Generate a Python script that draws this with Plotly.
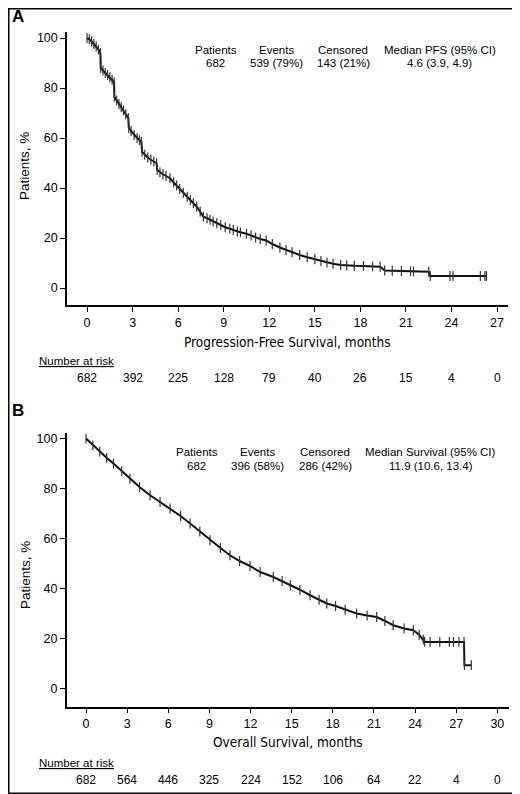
import plotly.graph_objects as go

# Panel A: progression-free survival
pfs_months = [0, 0.15, 0.3, 0.45, 0.6, 0.75, 0.88, 0.9, 1.05, 1.2, 1.35, 1.5, 1.65, 1.78,
              1.8, 1.95, 2.1, 2.25, 2.4, 2.55, 2.72, 2.75, 2.9, 3.1, 3.3, 3.45, 3.58, 3.62,
              3.8, 4.0, 4.2, 4.4, 4.58, 4.62, 4.8, 5.0, 5.2, 5.46, 5.7, 5.9, 6.1, 6.34, 6.6,
              6.8, 7.0, 7.22, 7.45, 7.66, 7.9, 8.1, 8.3, 8.54, 8.8, 9.1, 9.4, 9.63, 9.9, 10.1,
              10.5, 10.8, 11.1, 11.4, 11.8, 12.2, 12.7, 13.1, 13.5, 14.0, 14.5, 15.0, 15.4,
              15.8, 16.2, 16.7, 17.1, 17.6, 18.2, 18.8, 19.3, 19.6, 20.1, 20.7, 21.3, 21.5,
              22.5, 22.6, 23.9, 24.1, 25.9, 26.2, 26.3]
pfs_pct = [100, 99.5, 98.6, 97.6, 96.6, 95.4, 94, 88, 87, 86, 85.2, 84.3, 83.3, 82.3,
           76.5, 75, 73.5, 72.3, 71, 69.5, 68, 64, 62.8, 61.2, 60, 59.2, 58.5, 54.5,
           53.3, 52.2, 51.3, 50.6, 49.9, 47.2, 46.3, 45.5, 44.8, 43.9, 42.2, 41, 39.6, 38, 36.5,
           35.2, 33.9, 32.5, 30.5, 28.5, 27.9, 27.3, 26.6, 25.9, 25.2, 24.3, 23.7, 23.2, 22.6, 22.3,
           21.7, 21, 20.2, 19.6, 19.0, 17.6, 16.2, 15.2, 14.3, 13.2, 12.3, 11.5, 10.8,
           10.2, 9.7, 9.2, 9.0, 8.9, 8.8, 8.6, 8.5, 7.0, 6.9, 6.8, 6.7, 6.6,
           6.5, 4.8, 4.8, 4.8, 4.8, 4.8, 4.8]

# Panel B: overall survival
os_months = [0, 0.5, 1.0, 1.5, 2.0, 2.6, 3.2, 3.9, 4.67, 5.4, 6.13, 6.9, 7.59, 8.3, 9.04,
             9.8, 10.5, 11.2, 11.96, 12.7, 13.66, 14.3, 14.9, 15.6, 16.34, 17.0, 17.56, 18.2,
             18.9, 19.74, 20.5, 21.2, 21.8, 22.4, 23.2, 23.87, 24.3, 24.6, 24.7, 25.1, 25.8,
             26.5, 26.8, 27.2, 27.57, 27.6, 28.1]
os_pct = [100, 97.3, 94.8, 92.3, 90.0, 87.0, 84.0, 80.6, 77.3, 74.6, 72.0, 69.0, 66.0, 62.8, 59.3,
          56.2, 53.3, 51.0, 49.0, 46.6, 44.6, 43.0, 41.3, 39.5, 37.3, 35.5, 34.0, 33.0,
          31.5, 30.0, 29.2, 28.6, 27.0, 25.3, 24.0, 23.3, 21.5, 19.5, 18.6, 18.6, 18.6,
          18.6, 18.6, 18.6, 18.6, 9.3, 9.3]

pfs_ticks = [0, 3, 6, 9, 12, 15, 18, 21, 24, 27]
pfs_at_risk = [682, 392, 225, 128, 79, 40, 26, 15, 4, 0]
os_ticks = [0, 3, 6, 9, 12, 15, 18, 21, 24, 27, 30]
os_at_risk = [682, 564, 446, 325, 224, 152, 106, 64, 22, 4, 0]

pct_ticks = [0, 20, 40, 60, 80, 100]

pfs_header = [("Patients", "682"), ("Events", "539 (79%)"),
              ("Censored", "143 (21%)"), ("Median PFS (95% CI)", "4.6 (3.9, 4.9)")]
os_header = [("Patients", "682"), ("Events", "396 (58%)"),
             ("Censored", "286 (42%)"), ("Median Survival (95% CI)", "11.9 (10.6, 13.4)")]

# the page body has an 8px margin, so the figure is drawn 8px in from the window corner
OFF = 8
W, H = 520 - OFF, 794 - OFF
FONT = "Liberation Sans, Arial, sans-serif"
NARROW = "DejaVu Sans Condensed, Liberation Sans Narrow, sans-serif"


def px(x):
    return (x - OFF) / W


def py(y):
    return 1 - (y - OFF) / H


fig = go.Figure()

for months, pct, xa, ya in [(pfs_months, pfs_pct, "x", "y"), (os_months, os_pct, "x2", "y2")]:
    fig.add_trace(go.Scatter(
        x=months, y=pct, xaxis=xa, yaxis=ya, mode="lines+markers",
        line=dict(color="#111111", width=2),
        marker=dict(symbol="line-ns", size=7, line=dict(color="#333333", width=1.2)),
        showlegend=False, hoverinfo="skip",
    ))

axis_common = dict(showline=True, linecolor="black", linewidth=1.5, ticks="outside",
                   ticklen=5, tickwidth=1.2, tickcolor="black", showgrid=False,
                   zeroline=False, tickfont=dict(family=FONT, size=12.5, color="black"))

fig.update_layout(
    width=W, height=H,
    margin=dict(l=0, r=0, t=0, b=0),
    paper_bgcolor="white", plot_bgcolor="white",
    xaxis=dict(domain=[px(67), px(508)], range=[-1.32, 27.72], anchor="y",
               tickvals=pfs_ticks, **axis_common),
    yaxis=dict(domain=[py(305), py(32)], range=[-6.8, 102.4], anchor="x",
               tickvals=pct_ticks, **axis_common),
    xaxis2=dict(domain=[px(66.7), px(509)], range=[-1.41, 30.85], anchor="y2",
                tickvals=os_ticks, **axis_common),
    yaxis2=dict(domain=[py(706.7), py(433.3)], range=[-7.3, 102.1], anchor="x2",
                tickvals=pct_ticks, **axis_common),
)

ann = []


def text(x, y, s, size=11.5, family=FONT, xanchor="center", xref="paper", angle=0):
    ann.append(dict(x=x, y=y, xref=xref, yref="paper", text=s, showarrow=False,
                    xanchor=xanchor, yanchor="middle", textangle=angle,
                    font=dict(family=family, size=size, color="black")))


# panel letters
text(px(10), py(17), "<b>A</b>", size=17, xanchor="left")
text(px(10), py(411), "<b>B</b>", size=17, xanchor="left")

# header tables
for (head, val), cx in zip(pfs_header, [215.5, 276, 343, 439.5]):
    text(px(cx), py(50), head)
    text(px(cx), py(63.3), val)
for (head, val), cx in zip(os_header, [196.7, 257.8, 325, 430.5]):
    text(px(cx), py(452.3), head)
    text(px(cx), py(465.7), val)

# axis titles
text(px(287.5), py(341.7), "Progression-Free Survival, months", size=13.5, family=NARROW)
text(px(288), py(742.3), "Overall Survival, months", size=13.5, family=NARROW)
text(px(25), py(166), "Patients, %", size=13.5, angle=-90)
text(px(25), py(575), "Patients, %", size=13.5, angle=-90)

# number at risk
text(px(37), py(361), "<u>Number at risk</u>", xanchor="left")
for t, n in zip(pfs_ticks, pfs_at_risk):
    text(t, py(377.7), str(n), size=12, xref="x")
text(px(37), py(762.7), "<u>Number at risk</u>", xanchor="left")
for t, n in zip(os_ticks, os_at_risk):
    text(t, py(780), str(n), size=12, xref="x2")

fig.update_layout(annotations=ann)

# outer frame (right and bottom edges match the window edges)
fig.add_shape(type="rect", xref="paper", yref="paper", x0=0, y0=0, x1=1, y1=1,
              line=dict(color="black", width=3), fillcolor="rgba(0,0,0,0)")

fig.write_html("out.html")
